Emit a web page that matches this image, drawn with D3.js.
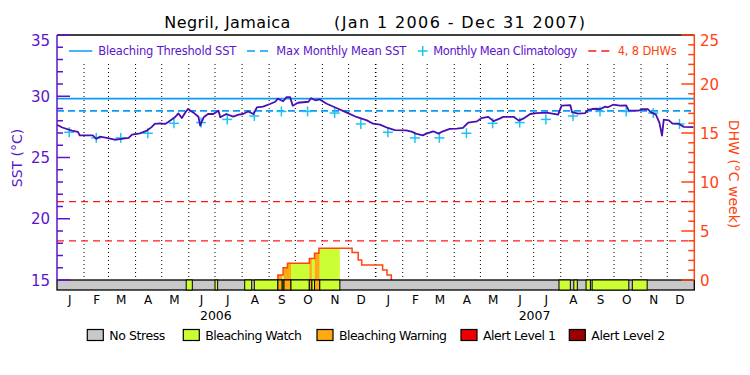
<!DOCTYPE html>
<html><head><meta charset="utf-8">
<script src="https://cdn.jsdelivr.net/npm/d3@7"></script>
<style>body{margin:0;background:#fff} svg{display:block} text{font-family:"DejaVu Sans",sans-serif}</style>
</head><body><svg id="c" width="750" height="375"></svg>
<script>
// ---------------- DATA ----------------
const sstDates = ["2006-01-01","2006-01-07","2006-01-18","2006-01-25","2006-01-27","2006-02-11","2006-02-15","2006-02-19","2006-02-27","2006-03-08","2006-03-16","2006-03-24","2006-03-28","2006-04-06","2006-04-14","2006-04-19","2006-04-23","2006-04-29","2006-05-05","2006-05-08","2006-05-16","2006-05-20","2006-05-24","2006-05-28","2006-05-31","2006-06-06","2006-06-12","2006-06-14","2006-06-18","2006-06-23","2006-06-29","2006-07-05","2006-07-07","2006-07-14","2006-07-22","2006-07-28","2006-08-02","2006-08-08","2006-08-14","2006-08-18","2006-08-25","2006-09-02","2006-09-08","2006-09-11","2006-09-17","2006-09-21","2006-09-25","2006-09-28","2006-10-04","2006-10-16","2006-10-19","2006-10-24","2006-10-29","2006-11-06","2006-11-17","2006-11-29","2006-12-10","2006-12-22","2006-12-29","2007-01-06","2007-01-15","2007-01-23","2007-02-05","2007-02-12","2007-02-16","2007-02-24","2007-02-28","2007-03-08","2007-03-14","2007-03-19","2007-03-27","2007-04-04","2007-04-11","2007-04-17","2007-04-27","2007-05-02","2007-05-10","2007-05-16","2007-05-23","2007-05-27","2007-06-08","2007-06-14","2007-06-19","2007-06-27","2007-07-04","2007-07-16","2007-07-29","2007-08-02","2007-08-12","2007-08-14","2007-08-21","2007-08-29","2007-09-01","2007-09-07","2007-09-11","2007-09-15","2007-09-21","2007-09-24","2007-09-30","2007-10-08","2007-10-15","2007-10-18","2007-10-29","2007-11-02","2007-11-09","2007-11-12","2007-11-18","2007-11-22","2007-11-25","2007-11-27","2007-12-03","2007-12-07","2007-12-14","2007-12-20","2007-12-31"];
const sstValues = [27.68,27.45,27.2,27.1,26.8,26.8,26.52,26.7,26.6,26.45,26.52,26.6,26.87,26.97,27.2,27.46,27.74,27.79,27.74,27.87,28.28,28.6,28.23,28.68,28.96,28.68,28.33,27.6,28.28,28.55,28.55,28.82,28.28,28.55,28.33,28.5,28.55,28.76,28.55,29.09,29.15,29.37,29.55,29.8,29.59,29.93,29.93,29.23,29.47,29.55,29.84,29.67,29.74,29.39,29.04,28.66,28.31,28.03,27.76,27.68,27.41,27.24,27.22,27.09,26.95,26.81,26.95,27.14,26.95,27.14,27.33,27.36,27.41,27.85,27.95,28.21,28.32,27.97,28.17,28.32,28.32,28.01,28.17,28.55,28.63,28.66,28.5,29.23,29.27,28.7,28.58,28.62,28.86,28.96,28.98,28.94,29.15,29.1,29.31,29.23,29.25,28.82,28.82,28.94,28.94,28.7,28.5,27.85,26.79,28.09,28.03,27.76,27.76,27.5,27.48];

const climDates = ["2006-01-15","2006-02-15","2006-03-15","2006-04-15","2006-05-15","2006-06-15","2006-07-15","2006-08-15","2006-09-15","2006-10-15","2006-11-15","2006-12-15","2007-01-15","2007-02-15","2007-03-15","2007-04-15","2007-05-15","2007-06-15","2007-07-15","2007-08-15","2007-09-15","2007-10-15","2007-11-15","2007-12-15"];
const climValues = [27.06,26.6,26.6,26.98,27.79,27.85,28.11,28.39,28.76,28.76,28.63,27.74,27.06,26.6,26.6,26.98,27.79,27.85,28.11,28.39,28.76,28.76,28.63,27.74];

const mmmSST = 28.8;
const thresholdSST = 29.8;
const dhwGuides = [4, 8];

const dhwDates = ["2006-09-11","2006-09-11","2006-09-17","2006-09-22","2006-10-17","2006-10-23","2006-10-28","2006-12-05","2006-12-12","2006-12-16","2007-01-09","2007-01-14","2007-01-19"];
const dhwValues = [0,0.5,1.25,1.7,2.2,2.72,3.23,2.8,2.05,1.53,1.02,0.51,0];

const stressStart = ["2006-05-29","2006-07-01","2006-08-04","2006-08-15","2006-09-11","2006-09-16","2006-09-18","2006-09-26","2006-10-17","2006-10-20","2006-10-23","2006-10-29","2007-07-30","2007-08-16","2007-08-30","2007-09-06","2007-10-22"];
const stressEnd   = ["2006-06-05","2006-07-04","2006-08-12","2006-09-11","2006-09-16","2006-09-18","2006-09-26","2006-10-17","2006-10-20","2006-10-23","2006-10-29","2006-11-21","2007-08-12","2007-08-20","2007-09-04","2007-10-18","2007-11-08"];
const stressLevel = [1,1,1,1,2,1,2,1,2,1,2,1,1,1,1,1,1];

const stressNames  = ["No Stress","Bleaching Watch","Bleaching Warning","Alert Level 1","Alert Level 2"];
const stressColors = ["#c8c8c8","#ccff33","#ffaa11","#ee0000","#990000"];
const monthLabels = ["J","F","M","A","M","J","J","A","S","O","N","D"];
const yearLabels = ["2006","2007"];
const sstTicks = [15,20,25,30,35];
const dhwTicks = [0,5,10,15,20,25];

// ---------------- STYLE ----------------
const PURPLE = "#5c14cc", LINEPURPLE = "#4a0fb0", BLUE = "#0a9cf5", CYAN = "#1ec3f0", ORANGE = "#ff4410", RED = "#ff1a1a";
const L = 57, R = 694.3, T = 35, B = 280, BAR = 10;

const parse = d3.utcParse("%Y-%m-%d");
const svg = d3.select("#c");
const x = d3.scaleUtc().domain([Date.UTC(2006,0,1), Date.UTC(2008,0,1)]).range([L, R]);
const yS = d3.scaleLinear().domain([15,35]).range([B, T]);
const yD = d3.scaleLinear().domain([0,25]).range([B, T]);

// title
svg.append("text").attr("x",164.3).attr("y",28).attr("font-size",16).attr("textLength",126).attr("lengthAdjust","spacing").text("Negril, Jamaica");
svg.append("text").attr("x",334).attr("y",28).attr("font-size",16).attr("textLength",251).attr("lengthAdjust","spacing").text("(Jan 1 2006 - Dec 31 2007)");

// month dotted lines
const monthStarts = d3.utcMonth.range(Date.UTC(2006,1,1), Date.UTC(2008,0,1));
svg.append("g").selectAll("line").data(monthStarts).join("line")
  .attr("x1", d=>x(d)).attr("x2", d=>x(d)).attr("y1", 64).attr("y2", B)
  .attr("stroke","#000")
  .attr("stroke-width", d=> d.getUTCMonth()===0 ? 1.6 : 1)
  .attr("stroke-dasharray", "1,3");

// DHW guides
svg.append("g").selectAll("line").data(dhwGuides).join("line")
  .attr("x1",L).attr("x2",R).attr("y1",d=>yD(d)).attr("y2",d=>yD(d))
  .attr("stroke",RED).attr("stroke-width",1.3).attr("stroke-dasharray","7,5");

// threshold & MMM
svg.append("line").attr("x1",L).attr("x2",R).attr("y1",yS(thresholdSST)).attr("y2",yS(thresholdSST)).attr("stroke",BLUE).attr("stroke-width",1.8);
svg.append("line").attr("x1",L).attr("x2",R).attr("y1",yS(mmmSST)).attr("y2",yS(mmmSST)).attr("stroke",BLUE).attr("stroke-width",1.8).attr("stroke-dasharray","7,4");

// DHW fill by stress level
const dhwData = dhwDates.map((d,i)=>({d:parse(d), v:dhwValues[i]}));
const area = d3.area().curve(d3.curveStepAfter).x(d=>x(d.d)).y0(B).y1(d=>yD(d.v));
const defs = svg.append("defs");
stressLevel.forEach((lv,i)=>{
  if (lv < 1) return;
  const x0 = x(parse(stressStart[i])), x1 = x(parse(stressEnd[i]));
  defs.append("clipPath").attr("id","cp"+i).append("rect").attr("x",x0).attr("y",T).attr("width",x1-x0).attr("height",B-T);
  svg.append("path").datum(dhwData).attr("d",area).attr("fill",stressColors[lv]).attr("clip-path","url(#cp"+i+")");
});
// DHW line
svg.append("path").datum(dhwData).attr("d", d3.line().curve(d3.curveStepAfter).x(d=>x(d.d)).y(d=>yD(d.v)))
  .attr("fill","none").attr("stroke",ORANGE).attr("stroke-width",1.5);

// climatology crosses
const cross = svg.append("g").attr("stroke",CYAN).attr("stroke-width",1.5);
climDates.forEach((d,i)=>{
  const cx = x(parse(d)), cy = yS(climValues[i]);
  cross.append("line").attr("x1",cx-5).attr("x2",cx+5).attr("y1",cy).attr("y2",cy);
  cross.append("line").attr("x1",cx).attr("x2",cx).attr("y1",cy-5).attr("y2",cy+5);
});

// SST line
const sstData = sstDates.map((d,i)=>({d:parse(d), v:sstValues[i]}));
svg.append("path").datum(sstData).attr("d", d3.line().x(d=>x(d.d)).y(d=>yS(d.v)))
  .attr("fill","none").attr("stroke",LINEPURPLE).attr("stroke-width",1.8).attr("stroke-linejoin","round");

// stress bar
svg.append("rect").attr("x",L).attr("y",B).attr("width",R-L).attr("height",BAR).attr("fill",stressColors[0]).attr("stroke","#000").attr("stroke-width",1.3);
svg.append("g").selectAll("rect").data(stressLevel).join("rect")
  .attr("x",(d,i)=>x(parse(stressStart[i]))).attr("y",B)
  .attr("width",(d,i)=>x(parse(stressEnd[i]))-x(parse(stressStart[i]))).attr("height",BAR)
  .attr("fill",d=>stressColors[d]).attr("stroke","#000").attr("stroke-width",1);

// frame
svg.append("line").attr("x1",L).attr("x2",R).attr("y1",T).attr("y2",T).attr("stroke","#000").attr("stroke-width",1.3);

// left axis
svg.append("line").attr("x1",L).attr("x2",L).attr("y1",T).attr("y2",B).attr("stroke",PURPLE).attr("stroke-width",1.5);
const lt = svg.append("g").attr("stroke",PURPLE).attr("stroke-width",1.5);
d3.range(15,36).forEach(v=>{
  const major = sstTicks.includes(v);
  lt.append("line").attr("x1",L).attr("x2",L+(major?13:6)).attr("y1",yS(v)).attr("y2",yS(v));
});
svg.append("g").selectAll("text").data(sstTicks).join("text")
  .attr("x",50).attr("y",d=>yS(d)+(d===35?6:1)).attr("text-anchor","end").attr("dominant-baseline","middle")
  .attr("fill",PURPLE).attr("font-size",15).text(d=>d);
svg.append("text").attr("transform","translate(18,158) rotate(-90)").attr("text-anchor","middle").attr("dominant-baseline","middle")
  .attr("fill",PURPLE).attr("font-size",14).text("SST (°C)");

// right axis
svg.append("line").attr("x1",R).attr("x2",R).attr("y1",T).attr("y2",B).attr("stroke",ORANGE).attr("stroke-width",1.5);
const rt = svg.append("g").attr("stroke",ORANGE).attr("stroke-width",1.5);
d3.range(0,26).forEach(v=>{
  const major = dhwTicks.includes(v);
  rt.append("line").attr("x1",R).attr("x2",R-(major?13:6)).attr("y1",yD(v)).attr("y2",yD(v));
});
svg.append("g").selectAll("text").data(dhwTicks).join("text")
  .attr("x",700).attr("y",d=>yD(d)+(d===25?6:1)).attr("text-anchor","start").attr("dominant-baseline","middle")
  .attr("fill",ORANGE).attr("font-size",15).text(d=>d);
svg.append("text").attr("transform","translate(733,174) rotate(90)").attr("text-anchor","middle").attr("dominant-baseline","middle")
  .attr("fill",ORANGE).attr("font-size",14).text("DHW (°C week)");

// month & year labels
const midMonths = d3.utcMonth.range(Date.UTC(2006,0,1), Date.UTC(2008,0,1)).map(d=>new Date(d.getTime()+14.5*864e5));
svg.append("g").selectAll("text").data(midMonths).join("text")
  .attr("x",d=>x(d)).attr("y",304).attr("text-anchor","middle").attr("font-size",12)
  .text((d,i)=>monthLabels[i%12]);
svg.append("g").selectAll("text").data(yearLabels).join("text")
  .attr("x",d=>x(Date.UTC(+d,6,2))).attr("y",319.5).attr("text-anchor","middle").attr("font-size",12.5).text(d=>d);

// top legend
const lg = svg.append("g");
lg.append("line").attr("x1",69).attr("x2",92.3).attr("y1",51).attr("y2",51).attr("stroke",BLUE).attr("stroke-width",1.5);
lg.append("text").attr("x",98.3).attr("y",55).attr("font-size",11.5).attr("fill",PURPLE).attr("textLength",138).attr("lengthAdjust","spacing").text("Bleaching Threshold SST");
lg.append("line").attr("x1",247).attr("x2",268).attr("y1",51).attr("y2",51).attr("stroke",BLUE).attr("stroke-width",1.5).attr("stroke-dasharray","8,5");
lg.append("text").attr("x",276.3).attr("y",55).attr("font-size",11.5).attr("fill",PURPLE).attr("textLength",130).attr("lengthAdjust","spacing").text("Max Monthly Mean SST");
lg.append("line").attr("x1",417.7).attr("x2",427.7).attr("y1",51).attr("y2",51).attr("stroke",CYAN).attr("stroke-width",1.5);
lg.append("line").attr("x1",422.7).attr("x2",422.7).attr("y1",46).attr("y2",56).attr("stroke",CYAN).attr("stroke-width",1.5);
lg.append("text").attr("x",433.3).attr("y",55).attr("font-size",11.5).attr("fill",PURPLE).attr("textLength",144).attr("lengthAdjust","spacing").text("Monthly Mean Climatology");
lg.append("line").attr("x1",588.3).attr("x2",611.7).attr("y1",51).attr("y2",51).attr("stroke",RED).attr("stroke-width",1.3).attr("stroke-dasharray","8,5");
lg.append("text").attr("x",617.7).attr("y",55).attr("font-size",11.5).attr("fill",ORANGE).attr("textLength",59).attr("lengthAdjust","spacing").text("4, 8 DHWs");

// bottom legend
const boxX = [87.3,183.3,317,461,569.3];
const txtLen = [56,96.7,108,73,74];
const bl = svg.append("g");
stressNames.forEach((n,i)=>{
  bl.append("rect").attr("x",boxX[i]).attr("y",329.5).attr("width",16).attr("height",11).attr("fill",stressColors[i]).attr("stroke","#000").attr("stroke-width",1.2);
  bl.append("text").attr("x",boxX[i]+22).attr("y",340).attr("font-size",12.5).attr("textLength",txtLen[i]).attr("lengthAdjust","spacing").text(n);
});
</script></body></html>
